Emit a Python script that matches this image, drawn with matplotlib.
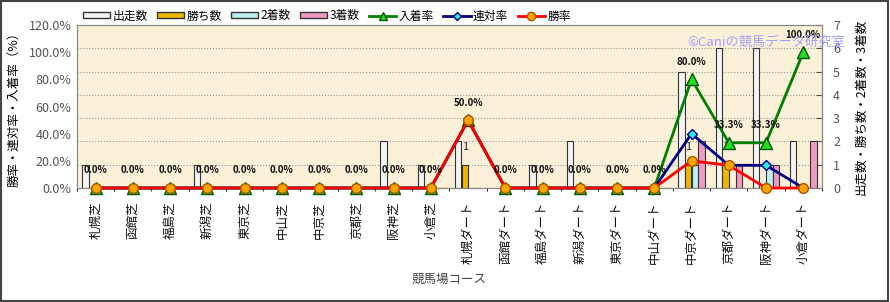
import numpy as np
import matplotlib
matplotlib.use("Agg")
import matplotlib.pyplot as plt
from matplotlib.patches import Rectangle
from matplotlib.lines import Line2D

plt.rcParams['font.family'] = ['Noto Sans CJK JP', 'DejaVu Sans']

courses = ["札幌芝", "函館芝", "福島芝", "新潟芝", "東京芝", "中山芝", "中京芝", "京都芝", "阪神芝", "小倉芝",
           "札幌ダート", "函館ダート", "福島ダート", "新潟ダート", "東京ダート", "中山ダート",
           "中京ダート", "京都ダート", "阪神ダート", "小倉ダート"]
starts = [1, 0, 0, 1, 0, 0, 0, 0, 2, 1, 2, 0, 1, 2, 0, 0, 5, 6, 6, 2]
wins = [0, 0, 0, 0, 0, 0, 0, 0, 0, 0, 1, 0, 0, 0, 0, 0, 1, 1, 0, 0]
seconds = [0, 0, 0, 0, 0, 0, 0, 0, 0, 0, 0, 0, 0, 0, 0, 0, 1, 0, 1, 0]
thirds = [0, 0, 0, 0, 0, 0, 0, 0, 0, 0, 0, 0, 0, 0, 0, 0, 2, 1, 1, 2]
win_rate = [0, 0, 0, 0, 0, 0, 0, 0, 0, 0, 50.0, 0, 0, 0, 0, 0, 20.0, 16.7, 0, 0]
rentai_rate = [0, 0, 0, 0, 0, 0, 0, 0, 0, 0, 50.0, 0, 0, 0, 0, 0, 40.0, 16.7, 16.7, 0]
place_rate = [0, 0, 0, 0, 0, 0, 0, 0, 0, 0, 50.0, 0, 0, 0, 0, 0, 80.0, 33.3, 33.3, 100.0]

x = np.arange(len(courses))

fig = plt.figure(figsize=(8.9, 3.02), dpi=100)
fig.patches.append(Rectangle((0.001, 0.003), 0.997, 0.994, transform=fig.transFigure,
                             fill=False, edgecolor="#444444", linewidth=1.5))

ax = fig.add_axes([0.0865, 0.3775, 0.837, 0.5397])
ax2 = ax.twinx()
ax.set_zorder(2)
ax2.set_zorder(1)
ax.patch.set_visible(False)
ax2.patch.set_visible(True)
ax2.patch.set_facecolor("#FBF0D8")

# bars on the count axis
bw = 0.18
bar_specs = [(starts, "#F4F4F4", "出走数"), (wins, "#EDB800", "勝ち数"),
             (seconds, "#BDEFEF", "2着数"), (thirds, "#EE9AC4", "3着数")]
for i, (vals, col, lab) in enumerate(bar_specs):
    ax2.bar(x + (i - 1.5) * bw, vals, bw * 0.95, color=col, edgecolor="#333333", linewidth=0.8, zorder=2)
for xi, w in zip(x, wins):
    if w > 0:
        ax2.annotate(str(w), (xi - 0.5 * bw, w), xytext=(0, 9), textcoords="offset points",
                     ha="center", va="bottom", fontsize=8, color="#222222")

ax2.set_ylim(0, 7)
ax2.set_yticks(range(0, 8))
ax2.tick_params(axis="y", direction="in", length=4, colors="#555555", labelsize=9, pad=8)
ax2.set_ylabel("出走数・勝ち数・2着数・3着数", fontsize=9, labelpad=10)

# rate lines
ax.plot(x, place_rate, color="#008000", lw=2, marker="^", ms=8, mfc="#22DD22", mec="#005500",
        clip_on=False, zorder=3)
ax.plot(x, rentai_rate, color="#000080", lw=2, marker="D", ms=5, mfc="#33E8E8", mec="#000080",
        clip_on=False, zorder=4)
ax.plot(x, win_rate, color="#FF0000", lw=2, marker="o", ms=7, mfc="#FFA500", mec="#AA5500",
        clip_on=False, zorder=5)
for xi, v in zip(x, place_rate):
    ax.annotate(f"{v:.1f}%", (xi, v), xytext=(0, 9), textcoords="offset points",
                ha="center", va="bottom", fontsize=7, fontweight="bold", color="#111111", zorder=6)

ax.set_xlim(-0.5, len(courses) - 0.5)
ax.set_ylim(0, 120)
ax.set_yticks(range(0, 121, 20))
ax.set_yticklabels([f"{v:.1f}%" for v in range(0, 121, 20)])
ax.tick_params(axis="y", direction="in", length=0, colors="#555555", labelsize=9, pad=4)
ax.set_xticks(x)
ax.set_xticklabels(courses, rotation=90, fontsize=9, color="#111111")
ax.tick_params(axis="x", length=0, pad=10)
ax2.set_xticks(np.arange(-0.5, len(courses), 1.0), minor=True)
ax2.grid(True, which="minor", axis="x", color="#999999", linestyle=":", linewidth=0.8)
ax2.grid(True, which="major", axis="y", color="#999999", linestyle=":", linewidth=0.8)
ax2.tick_params(axis="x", which="minor", length=0)
ax.set_ylabel("勝率・連対率・入着率（%）", fontsize=9, labelpad=6)
ax.set_xlabel("競馬場コース", fontsize=9, color="#444444", labelpad=6)
for a in (ax, ax2):
    for s in a.spines.values():
        s.set_color("#888888")

ax.text(0.925, 0.896, "©Caniの競馬データ研究室", transform=ax.transAxes, ha="center", va="center",
        fontsize=9.5, color="#9999FF", alpha=0.9, zorder=7, clip_on=False)

handles = [Rectangle((0, 0), 1, 1, facecolor=c, edgecolor="#333333") for _, c, _ in bar_specs]
handles += [Line2D([], [], color="#008000", lw=2, marker="^", ms=6, mfc="#22DD22", mec="#005500"),
            Line2D([], [], color="#000080", lw=2, marker="D", ms=4, mfc="#33E8E8", mec="#000080"),
            Line2D([], [], color="#FF0000", lw=2, marker="o", ms=6, mfc="#FFA500", mec="#AA5500")]
labels = [lab for _, _, lab in bar_specs] + ["入着率", "連対率", "勝率"]
fig.legend(handles, labels, loc="center left", bbox_to_anchor=(0.093, 1 - 16 / 302), ncol=7,
           frameon=False, fontsize=8.5, handlelength=2.3, handleheight=0.45, handletextpad=0.2,
           columnspacing=0.8, borderaxespad=0, borderpad=0)

fig.savefig("out.png", dpi=100)
